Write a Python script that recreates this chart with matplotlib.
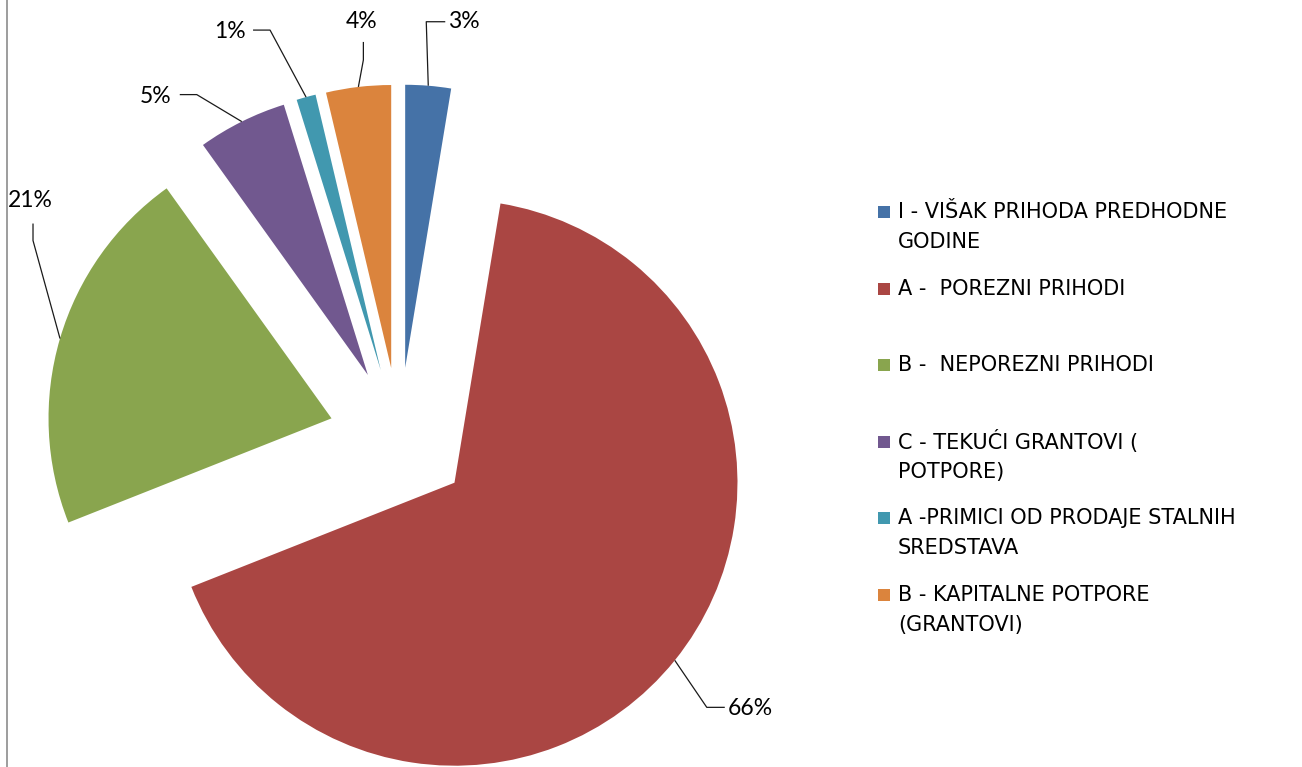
import matplotlib
matplotlib.use('Agg')
import matplotlib.pyplot as plt
import numpy as np
from matplotlib.patches import Rectangle

# ---- data ----
categories = [
    "I - VIŠAK PRIHODA PREDHODNE\nGODINE",
    "A -  POREZNI PRIHODI",
    "B -  NEPOREZNI PRIHODI",
    "C - TEKUĆI GRANTOVI (\nPOTPORE)",
    "A -PRIMICI OD PRODAJE STALNIH\nSREDSTAVA",
    "B - KAPITALNE POTPORE\n(GRANTOVI)",
]
values = [2.6, 66.4, 21.1, 5.1, 1.1, 3.7]
colors = ["#4572A7", "#AA4643", "#89A54E", "#71588F", "#4198AF", "#DB843D"]

# ---- layout / style ----
W, H = 1302, 767
S = 283.0                 # pixels per data unit (pie radius)
CX, CY = 399.4, 438.3     # pie centre in pixels (from top-left)
FONT = ['Lato', 'DejaVu Sans']
LEG_FONT = ['DejaVu Sans']

# leader-line style per slice: elbow, end, text offsets in px (screen, y down) from the slice's outer midpoint
label_style = [
    dict(elbow=(-2, -64), end=(17, -64), text=(20, -64), ha='left'),
    dict(elbow=(32, 47), end=(50, 47), text=(53, 48), ha='left'),
    dict(elbow=(-27, -98), end=(-27, -115), text=(-30, -138), ha='center'),
    dict(elbow=(-45, -27), end=(-62, -27), text=(-70, -25), ha='right'),
    dict(elbow=(-36, -67), end=(-53, -67), text=(-60, -66), ha='right'),
    dict(elbow=(5, -27), end=(5, -45), text=(3, -65), ha='center'),
]

fig = plt.figure(figsize=(W / 100, H / 100), dpi=100)
ax = fig.add_axes([0, 0, 1, 1])

wedges, _ = ax.pie(values, colors=colors, startangle=90, counterclock=False,
                   explode=[0.25] * len(values), radius=1.0,
                   wedgeprops=dict(linewidth=0))
ax.set_aspect('auto')
ax.set_xlim(-CX / S, (W - CX) / S)
ax.set_ylim(-(H - CY) / S, CY / S)
ax.axis('off')

def px(dx, dy):
    return dx / S, -dy / S

total = sum(values)
for w, v, st in zip(wedges, values, label_style):
    mid = np.deg2rad((w.theta1 + w.theta2) / 2)
    cx, cy = w.center
    P = (cx + w.r * np.cos(mid), cy + w.r * np.sin(mid))
    ex, ey = px(*st['elbow'])
    nx, ny = px(*st['end'])
    tx, ty = px(*st['text'])
    ax.plot([P[0], P[0] + ex, P[0] + nx], [P[1], P[1] + ey, P[1] + ny],
            color='#1a1a1a', lw=0.9, solid_capstyle='butt')
    ax.text(P[0] + tx, P[1] + ty, f"{v / total * 100:.0f}%", ha=st['ha'], va='center',
            fontsize=16.5, family=FONT, color='black')

# ---- legend (manual, Excel-like) ----
leg_x_marker, leg_x_text = 878, 898
leg_y0, leg_step, line_step, msize = 212, 76.6, 30, 12
for i, (lab, col) in enumerate(zip(categories, colors)):
    y = leg_y0 + i * leg_step
    ax.add_patch(Rectangle(((leg_x_marker - CX) / S, (CY - (y + msize / 2)) / S),
                           msize / S, msize / S, facecolor=col, edgecolor='none',
                           clip_on=False))
    for k, line in enumerate(lab.split("\n")):
        ax.text((leg_x_text - CX) / S, (CY - (y + k * line_step)) / S, line,
                ha='left', va='center', fontsize=15, family=LEG_FONT, color='black')

# left border line of the chart area
fig.add_artist(plt.Line2D([6.5 / W, 6.5 / W], [0, 1], transform=fig.transFigure,
                          color='#8c8c8c', lw=1.2))

fig.savefig('out.png', dpi=100)
